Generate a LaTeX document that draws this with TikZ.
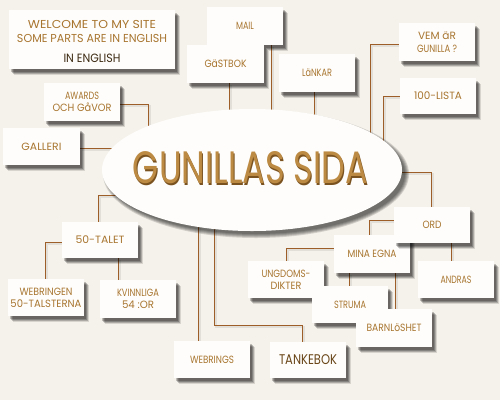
\documentclass[tikz,border=0pt]{standalone}
\usepackage{fontspec}
\setmainfont{Poppins}
\usepackage{graphicx}
\usetikzlibrary{shapes.geometric}
\pgfdeclarelayer{lines}
\pgfsetlayers{lines,main}
\definecolor{bg}{HTML}{F5F2EB}
\definecolor{boxfill}{HTML}{FEFDFB}
\definecolor{linecol}{HTML}{9E5E28}
\definecolor{gold}{HTML}{A8752F}
\definecolor{darkgold}{HTML}{3C2A12}
\definecolor{tankcol}{HTML}{6A4618}
\definecolor{titlegold}{HTML}{BC8A42}
\definecolor{titledark}{HTML}{7A5220}
\newcommand\fw[2]{\resizebox{#1pt}{\height}{#2}}
\begin{document}
\begin{tikzpicture}[x=1pt,y=-1pt,
  softshadow/.style={
    preaction={fill=black, fill opacity=0.22, transform canvas={xshift=1.5pt, yshift=-2.5pt}},
    preaction={fill=black, fill opacity=0.22, transform canvas={xshift=2.5pt, yshift=-3.5pt}},
    preaction={fill=black, fill opacity=0.2, transform canvas={xshift=3.5pt, yshift=-4.5pt}},
    preaction={fill=black, fill opacity=0.12, transform canvas={xshift=4.5pt, yshift=-5.5pt}}},
  box/.style={rectangle, fill=boxfill, minimum width=76pt, minimum height=38pt,
    inner sep=0pt, text=gold, font=\fontsize{10.5}{12}\selectfont, align=center, softshadow},
  conn/.style={draw=linecol, line width=1pt,
    preaction={draw=black, draw opacity=0.08, line width=2pt, transform canvas={xshift=2pt,yshift=-2pt}}},
  lbl/.style={inner sep=0pt},
  ovalshade/.style={fill=black, fill opacity=0.14}
]
\begin{pgfonlayer}{lines}
\useasboundingbox (0,0) rectangle (500,400);
\fill[bg] (0,0) rectangle (500,400);
\end{pgfonlayer}

% attachment points on the oval
\coordinate (eAw) at (148,135);
\coordinate (eMail) at (271,125);
\coordinate (eGb) at (229,125);
\coordinate (eLk) at (314,125);
\coordinate (eVem) at (370,145);
\coordinate (eLista) at (383,150);
\coordinate (eGal) at (125,148);
\coordinate (eTal) at (125,195);
\coordinate (eWr) at (198,215);
\coordinate (tkc) at (214,325);
\coordinate (eTk) at (214,215);
\coordinate (eOrd) at (390,172);

% oval shadow (soft)
\foreach \r in {4,3,2,1,0}
  \fill[ovalshade] (256,174) ellipse [x radius=149pt+\r pt, y radius=60pt+\r pt];
% oval
\node[ellipse, fill=boxfill, minimum width=300pt, minimum height=122pt, inner sep=0pt] (oval) at (252,170) {};
\node[inner sep=0pt, text=titledark] (titleshade) at (251.5,169.2) {\resizebox{235pt}{32pt}{GUNILLAS SIDA}};
\node[inner sep=0pt, text=titlegold] (titletext) at (250.5,168) {\resizebox{235pt}{32pt}{GUNILLAS SIDA}};

\node[box] (mail) at (245,26) {\fw{18}{MAIL}};
\node[box, minimum width=77pt] (gastbok) at (225.5,64) {\fw{42}{GäSTBOK}};
\node[box] (lankar) at (317,73) {\fw{30}{LäNKAR}};
\node[box] (vem) at (437,42) {\fw{38}{VEM äR}\\[1pt]\fw{40}{GUNILLA ?}};
\node[box, minimum height=36pt] (lista) at (438,96) {\fw{48}{100-LISTA}};
\node[box, minimum width=166pt, minimum height=59pt] (welcome) at (92,39.5) {};
\node[lbl, text=gold, font=\fontsize{11.5}{12}\selectfont] (w1) at (92,24) {\fw{128}{WELCOME TO MY SITE}};
\node[lbl, text=gold, font=\fontsize{11.5}{12}\selectfont] (w2) at (92,38) {\fw{150}{SOME PARTS ARE IN ENGLISH}};
\node[lbl, text=darkgold, font=\fontsize{12}{12}\selectfont] (w3) at (92,58) {\fw{57}{IN ENGLISH}};
\node[box] (awards) at (82,102) {\fw{34}{AWARDS}\\[0pt]\fw{59}{OCH GåVOR}};
\node[box, minimum width=77pt, minimum height=37pt] (galleri) at (41.5,146.5) {\fw{40}{GALLERI}};
\node[box, minimum height=36pt] (talet) at (100,240) {\fw{49}{50-TALET}};
\node[box, minimum height=37pt] (webringen) at (46,297.5) {\fw{53}{WEBRINGEN}\\[0pt]\fw{71}{50-TALSTERNA}};
\node[box] (kvinnliga) at (138,299) {\fw{42}{KVINNLIGA}\\[0pt]\fw{32}{54 :OR}};
\node[box, minimum height=37pt] (webrings) at (212,359.5) {\fw{44}{WEBRINGS}};
\node[box, minimum height=36pt, text=tankcol, font=\fontsize{14}{16}\selectfont] (tankebok) at (308,360) {\fw{58}{TANKEBOK}};
\node[box, minimum height=37pt] (andras) at (456,279.5) {\fw{31}{ANDRAS}};
\node[box] (mina) at (372,254) {\fw{49}{MINA EGNA}};
\node[box, minimum height=36pt] (ord) at (432,225) {\fw{19}{ORD}};
\node[box, minimum height=37pt] (ungdoms) at (286,279.5) {\fw{49}{UNGDOMS-}\\[0pt]\fw{31}{DIKTER}};
\node[box, minimum height=37pt] (struma) at (350,304.5) {\fw{32}{STRUMA}};
\node[box] (barn) at (394,328) {\fw{55}{BARNLöSHET}};

\begin{pgfonlayer}{lines}
\draw[conn] ([yshift=-2pt]awards.east) -| (eAw);
\draw[conn] ([xshift=26pt]mail.south) -- (eMail);
\draw[conn] ([xshift=3.5pt]gastbok.south) -- (eGb);
\draw[conn] ([xshift=-3pt]lankar.south) -- (eLk);
\draw[conn] ([yshift=-2pt]vem.west) -| (eVem);
\draw[conn] (lista.west) -| (eLista);
\draw[conn] ([yshift=-1.5pt]galleri.east) -- (eGal);
\draw[conn] ([xshift=-2pt]talet.north) |- (eTal);
\draw[conn] ([yshift=-2pt]talet.west) -| ([xshift=-1pt]webringen.north);
\draw[conn] ([xshift=18pt]talet.south) -- ([xshift=-20pt]kvinnliga.north);
\draw[conn] ([xshift=-14pt]webrings.north) -- (eWr);
\draw[conn] ([xshift=-6pt]tankebok.north) |- (tkc) -- (eTk);
\draw[conn] ([xshift=-1pt]ord.north) |- (eOrd);
\draw[conn] ([yshift=5pt]ord.west) -| ([xshift=-3pt]mina.north);
\draw[conn] ([yshift=6pt]mina.west) -| (ungdoms.north);
\draw[conn] ([xshift=-23pt]mina.south) -- ([xshift=-1pt]struma.north);
\draw[conn] ([xshift=23pt]mina.south) -- ([xshift=1pt]barn.north);
\draw[conn] ([xshift=19pt]ord.south) -- ([xshift=-5pt]andras.north);
\end{pgfonlayer}
\end{tikzpicture}
\end{document}
